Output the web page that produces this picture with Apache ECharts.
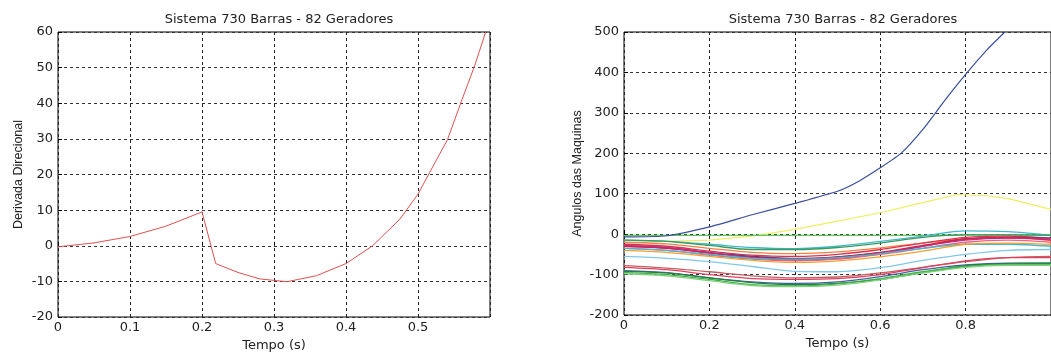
<!DOCTYPE html>
<html>
<head>
<meta charset="utf-8">
<script src="https://cdn.jsdelivr.net/npm/echarts@6/dist/echarts.min.js"></script>
<style>
  html, body { margin: 0; padding: 0; background: #fff; }
  #chart { width: 1051px; height: 357px; }
</style>
</head>
<body>
<div id="chart"></div>
<script>
// left panel: derivada direcional
const derivT = [0, 0.05, 0.1, 0.15, 0.2, 0.219, 0.25, 0.28, 0.318, 0.359, 0.4, 0.437, 0.475, 0.5, 0.516, 0.541, 0.56, 0.579, 0.594];
const derivV = [-0.3, 0.8, 2.6, 5.5, 9.5, -5, -7.5, -9.3, -10.1, -8.4, -5, 0, 7.5, 14.5, 20.5, 29.8, 40.4, 50.7, 60];

// right panel: angulos das maquinas
const tGrid = [0, 0.1, 0.2, 0.3, 0.4, 0.5, 0.6, 0.7, 0.8, 0.9, 1.0];
const blueT = [0, 0.1, 0.2, 0.3, 0.4, 0.5, 0.55, 0.6, 0.65, 0.7, 0.75, 0.8, 0.85, 0.892];
const blueV = [-7, -4, 18, 48, 76, 106, 131, 164, 201, 259, 329, 395, 456, 500];
const yellowT = [0, 0.1, 0.2, 0.3, 0.4, 0.5, 0.6, 0.7, 0.78, 0.85, 0.9, 1.0];
const yellowV = [-15, -18, -15, -5, 12, 32, 53, 78, 98, 95, 88, 61];

const machines = [
  { color: '#5cc85c', v: [-3, -3, -3, -3, -3, -3, -3, -3, -2, -2, -2] },
  { color: '#40b8d0', v: [-15, -18, -25, -33, -36, -30, -18, -5, 8, 6, -3] },
  { color: '#3a9a5a', v: [-15, -18, -28, -38, -38, -33, -22, -8, -2, -2, -3] },
  { color: '#f08040', v: [-20, -24, -35, -45, -48, -44, -34, -22, -12, -10, -15] },
  { color: '#e0304a', v: [-25, -30, -42, -52, -55, -50, -38, -22, -8, -5, -10] },
  { color: '#404080', v: [-30, -34, -46, -55, -60, -56, -46, -30, -12, -8, -10] },
  { color: '#d82040', v: [-30, -35, -47, -57, -62, -57, -45, -28, -12, -8, -15] },
  { color: '#c03080', v: [-28, -33, -45, -58, -65, -60, -48, -30, -15, -10, -12] },
  { color: '#f06080', v: [-35, -40, -52, -62, -66, -62, -50, -35, -20, -15, -20] },
  { color: '#40b8d0', v: [-35, -40, -50, -60, -62, -58, -48, -35, -25, -25, -30] },
  { color: '#f0a030', v: [-40, -45, -55, -65, -70, -66, -56, -42, -25, -22, -25] },
  { color: '#80c8e8', v: [-55, -60, -68, -80, -92, -93, -83, -65, -50, -40, -38] },
  { color: '#c06060', v: [-78, -84, -93, -103, -108, -106, -96, -82, -68, -58, -55] },
  { color: '#e04060', v: [-82, -88, -100, -110, -112, -110, -100, -83, -66, -58, -58] },
  { color: '#4060a0', v: [-90, -95, -108, -118, -122, -118, -105, -88, -76, -72, -72] },
  { color: '#208040', v: [-92, -96, -108, -120, -125, -122, -112, -95, -78, -73, -72] },
  { color: '#40b040', v: [-95, -100, -112, -125, -128, -123, -110, -93, -80, -75, -75] },
  { color: '#80d080', v: [-98, -103, -115, -127, -130, -126, -113, -96, -82, -77, -77] }
];

const font = 'DejaVu Sans, Arial, sans-serif';
const nameFont = 'Liberation Sans, Arial, sans-serif';
const titleText = 'Sistema 730 Barras - 82 Geradores';

function pairs(xs, ys) {
  return xs.map((x, i) => [x, ys[i]]);
}

function xAxisCfg(gridIndex, max, interval) {
  return {
    type: 'value', gridIndex, min: 0, max, interval,
    name: 'Tempo (s)', nameLocation: 'middle', nameGap: 22,
    nameTextStyle: { fontFamily: font, fontSize: 13, color: '#222' },
    axisLine: { show: false },
    axisTick: { inside: true, length: 4, lineStyle: { color: '#000' } },
    axisLabel: { showMaxLabel: false, fontFamily: font, fontSize: 13, color: '#222', margin: 4 },
    splitLine: { show: true, lineStyle: { color: '#222', type: [3, 3], width: 1 } }
  };
}

function yAxisCfg(gridIndex, min, max, interval, name, gap) {
  return {
    type: 'value', gridIndex, min, max, interval,
    name, nameLocation: 'middle', nameGap: gap,
    nameTextStyle: { fontFamily: nameFont, fontSize: 12.5, color: '#222' },
    axisLine: { show: false },
    axisTick: { inside: true, length: 4, lineStyle: { color: '#000' } },
    axisLabel: { fontFamily: font, fontSize: 13, color: '#222', margin: 5 },
    splitLine: { show: true, lineStyle: { color: '#333', type: [3, 3], width: 1 } }
  };
}

const series = [
  {
    type: 'line', xAxisIndex: 0, yAxisIndex: 0, symbol: 'none',
    data: pairs(derivT, derivV),
    lineStyle: { color: '#e05050', width: 1 }
  },
  {
    type: 'line', xAxisIndex: 1, yAxisIndex: 1, symbol: 'none',
    data: pairs(yellowT, yellowV),
    lineStyle: { color: '#eeee60', width: 1.2 }
  }
];
machines.forEach(m => {
  series.push({
    type: 'line', xAxisIndex: 1, yAxisIndex: 1, symbol: 'none', smooth: 0.3,
    data: pairs(tGrid, m.v),
    lineStyle: { color: m.color, width: 1.3 }
  });
});
series.push({
  type: 'line', xAxisIndex: 1, yAxisIndex: 1, symbol: 'none', smooth: 0.2,
  data: pairs(blueT, blueV),
  lineStyle: { color: '#3a4f9a', width: 1.2 }
});

const option = {
  backgroundColor: '#fff',
  animation: false,
  title: [
    { text: titleText, left: 274, top: 8, textAlign: 'center',
      textStyle: { fontFamily: font, fontSize: 13, fontWeight: 'normal', color: '#222' } },
    { text: titleText, left: 838, top: 8, textAlign: 'center',
      textStyle: { fontFamily: font, fontSize: 13, fontWeight: 'normal', color: '#222' } }
  ],
  grid: [
    { left: 58, top: 32, width: 432, height: 286, show: true, borderColor: '#000', borderWidth: 1, backgroundColor: '#fff' },
    { left: 624, top: 32, width: 428, height: 283, show: true, borderColor: '#000', borderWidth: 1, backgroundColor: '#fff' }
  ],
  xAxis: [xAxisCfg(0, 0.6, 0.1), xAxisCfg(1, 1.0, 0.2)],
  yAxis: [
    yAxisCfg(0, -20, 60, 10, 'Derivada Direcional', 33),
    yAxisCfg(1, -200, 500, 100, 'Angulos das Maquinas', 40)
  ],
  series
};

const chart = echarts.init(document.getElementById('chart'));
chart.setOption(option);
</script>
</body>
</html>
